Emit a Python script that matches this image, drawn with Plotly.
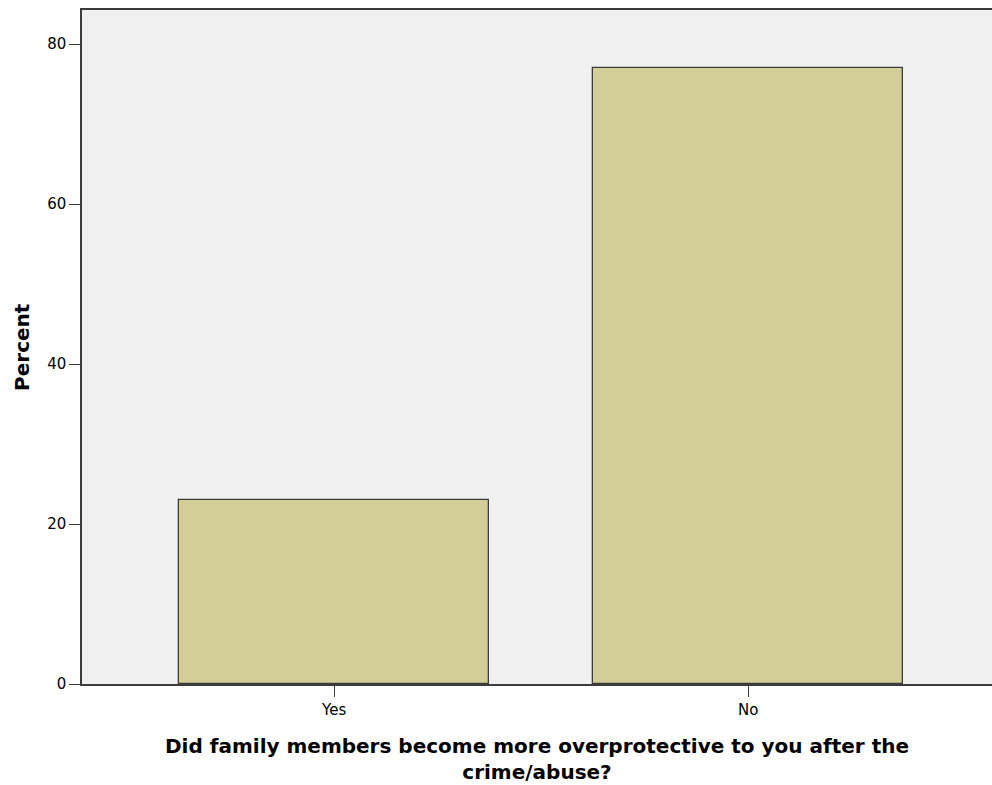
import plotly.graph_objects as go

categories = ["Yes", "No"]
percent = [23.0, 77.0]
y_ticks = [0, 20, 40, 60, 80]

fig = go.Figure()

fig.add_trace(go.Bar(
    x=[0, 1],
    y=percent,
    width=0.75,
    marker=dict(color="#d3ce97", line=dict(color="#3c3c3c", width=1.3)),
    showlegend=False,
))

fig.update_layout(
    width=992,
    height=785,
    margin=dict(l=82, r=0, t=10, b=101),
    paper_bgcolor="white",
    plot_bgcolor="#f0f0f0",
    font=dict(family="DejaVu Sans", size=15, color="black"),
    bargap=0,
)

fig.update_xaxes(
    range=[-0.609, 1.589],
    tickmode="array",
    tickvals=[0, 1],
    ticktext=categories,
    ticks="outside",
    ticklen=11,
    tickcolor="#3c3c3c",
    tickfont=dict(size=15),
    showline=True,
    linecolor="#3c3c3c",
    linewidth=1.5,
    mirror=True,
    showgrid=False,
    zeroline=False,
)

fig.update_yaxes(
    range=[0, 84.25],
    tickmode="array",
    tickvals=y_ticks,
    ticks="outside",
    ticklen=11,
    tickcolor="#3c3c3c",
    tickfont=dict(size=15),
    showline=True,
    linecolor="#3c3c3c",
    linewidth=1.5,
    showgrid=False,
    zeroline=False,
)

# axis titles
fig.add_annotation(
    text="<b>Did family members become more overprotective to you after the<br>crime/abuse?</b>",
    xref="paper", yref="paper", x=0.5, y=-0.111,
    xanchor="center", yanchor="middle",
    showarrow=False, font=dict(size=20), align="center", borderpad=0,
)
fig.add_annotation(
    text="<b>Percent</b>",
    xref="paper", yref="paper", x=-0.066, y=0.5,
    xanchor="center", yanchor="middle", textangle=-90,
    showarrow=False, font=dict(size=20),
)

# drop the default body margin so the figure fills the window exactly
fig.write_html(
    "out.html",
    config={"displayModeBar": False},
    post_script="document.body.style.margin='0';",
)
